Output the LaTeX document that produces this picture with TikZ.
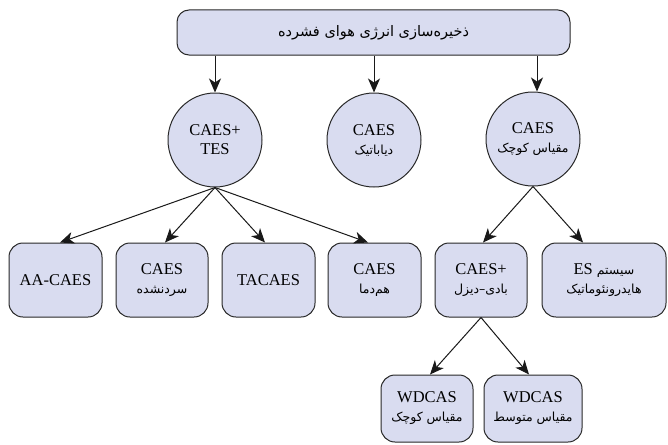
\documentclass[tikz,border=0pt]{standalone}
\usepackage{fontspec}
\setmainfont{Liberation Serif}
\newfontfamily\fa[Script=Arabic]{DejaVu Sans}
\TeXXeTstate=1
\usetikzlibrary{arrows.meta}

\definecolor{boxfill}{RGB}{217,220,240}
\definecolor{boxline}{RGB}{40,40,40}

% Persian line, set right to left
\newcommand\fatext[2][12.5]{{\fa\fontsize{#1}{15}\selectfont\beginR #2\endR}}

\tikzset{
  base/.style={draw=boxline, fill=boxfill, line width=1pt, align=center,
    font=\fontsize{16.5}{19}\selectfont, inner sep=0pt},
  circ/.style={base, circle, minimum size=94pt},
  rbox/.style={base, rectangle, rounded corners=14pt, minimum height=74pt},
  link/.style={draw=black!90, line width=1pt,
    -{Stealth[length=14pt,width=12pt,inset=4pt]}},
}

\begin{document}
\begin{tikzpicture}[x=1pt,y=-1pt]
\useasboundingbox (0,0) rectangle (668,444);

% root
\node[base, rectangle, rounded corners=12pt, minimum width=393pt, minimum height=45pt]
  (root) at (373.5,32.5) {\fatext[14.5]{ذخیره‌سازی انرژی هوای فشرده}};

% second level
\node[circ] (tes) at (215,140) {CAES+\\TES};
\node[circ] (dia) at (374,140) {CAES\\\fatext{دیاباتیک}};
\node[circ] (small) at (533,139) {CAES\\\fatext{مقیاس کوچک}};

% third level
\node[rbox, minimum width=93pt] (aa) at (55.5,280) {AA-CAES};
\node[rbox, minimum width=92pt] (cold) at (162,280) {CAES\\\fatext{سردنشده}};
\node[rbox, minimum width=93pt] (ta) at (268.5,280) {TACAES};
\node[rbox, minimum width=93pt] (iso) at (374.5,280) {CAES\\\fatext{هم‌دما}};
\node[rbox, minimum width=92pt] (wind) at (481,280) {CAES+\\\fatext{بادی–دیزل}};
\node[rbox, minimum width=124pt] (hyd) at (604,280)
  {{\fa\fontsize{12.5}{15}\selectfont\beginR سیستم {\rmfamily\fontsize{16.5}{19}\selectfont\beginL ES\endL}\endR}\\\fatext{هایدرونئوماتیک}};

% fourth level
\node[rbox, minimum width=92pt, minimum height=67pt] (wsmall) at (427,408.5)
  {WDCAS\\\fatext{مقیاس کوچک}};
\node[rbox, minimum width=98pt, minimum height=67pt] (wmed) at (533,408.5)
  {WDCAS\\\fatext{مقیاس متوسط}};

% connectors
\draw[link] (root.south -| tes.north) -- (tes.north);
\draw[link] (root.south -| dia.north) -- (dia.north);
\draw[link] ([xshift=4pt]root.south -| small.north) -- ([xshift=4pt]small.north);

\draw[link] (tes.south) -- ([xshift=4.5pt]aa.north);
\draw[link] (tes.south) -- ([xshift=3pt]cold.north);
\draw[link] (tes.south) -- ([xshift=-3.5pt]ta.north);
\draw[link] (tes.south) -- ([xshift=-6.5pt]iso.north);

\draw[link] (small.south) -- ([xshift=2pt]wind.north);
\draw[link] (small.south) -- ([xshift=-21pt]hyd.north);

\draw[link] (wind.south) -- ([xshift=3pt]wsmall.north);
\draw[link] (wind.south) -- ([xshift=-4pt]wmed.north);
\end{tikzpicture}
\end{document}
